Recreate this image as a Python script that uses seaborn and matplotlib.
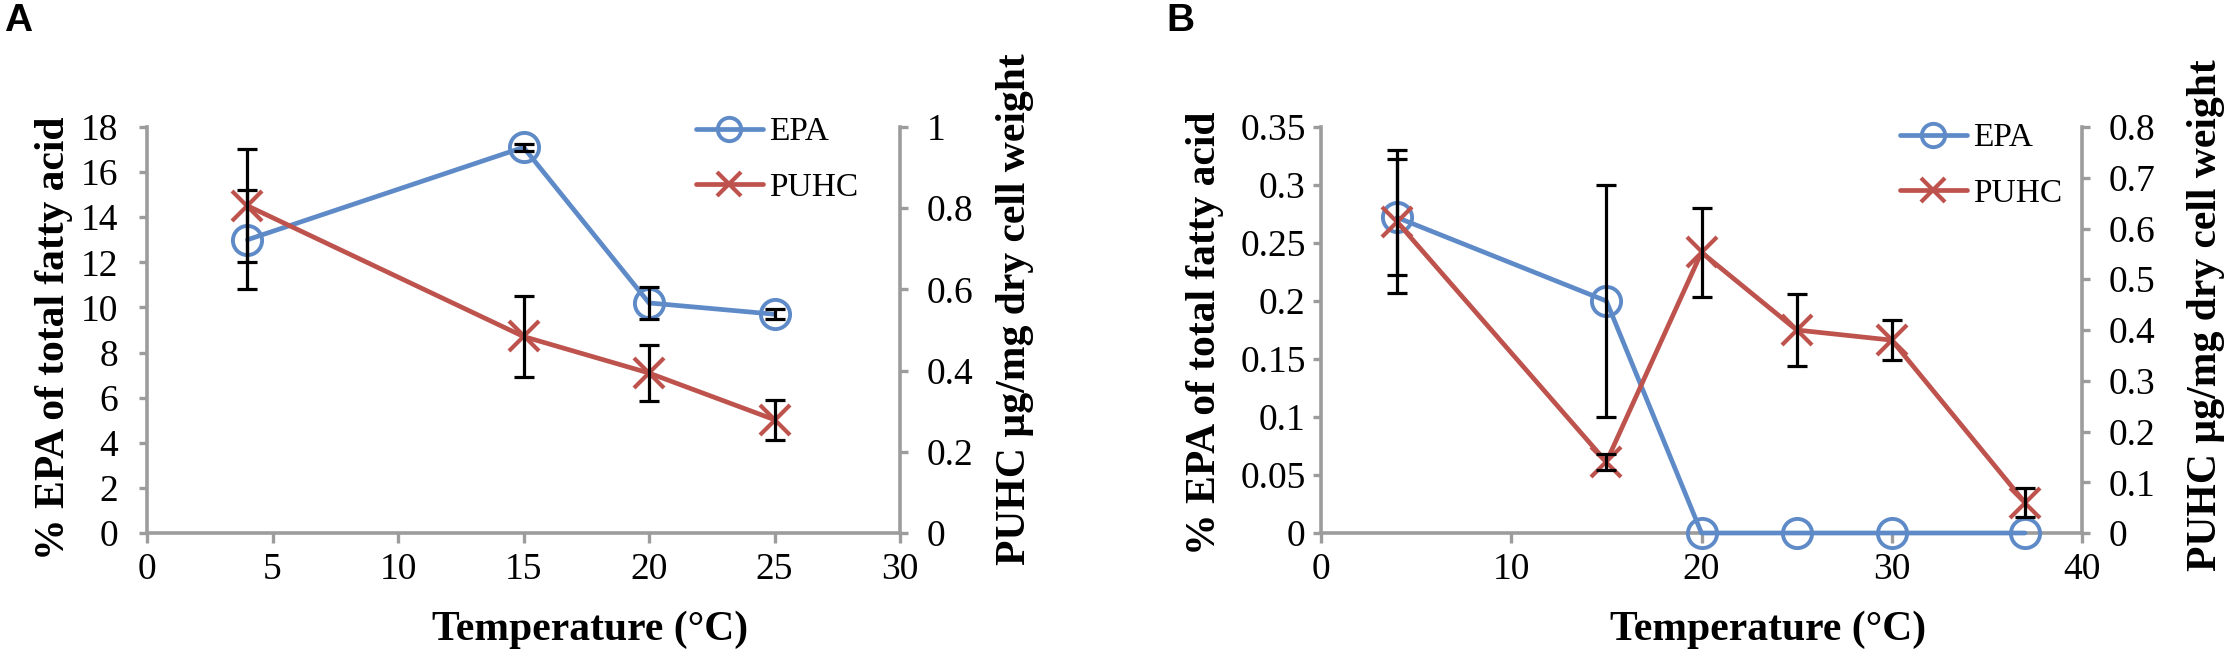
import matplotlib
matplotlib.use("Agg")
import matplotlib.pyplot as plt
import seaborn as sns
from matplotlib.ticker import MultipleLocator, FuncFormatter

# ---------------- data ----------------
temps_a = [4, 15, 20, 25]
epa_a = [13.0, 17.1, 10.2, 9.7]
epa_a_err = [2.2, 0.15, 0.7, 0.23]
puhc_a = [0.806, 0.484, 0.394, 0.279]
puhc_a_err = [0.139, 0.1, 0.069, 0.049]

temps_b = [4, 15, 20, 25, 30, 37]
epa_b = [0.272, 0.2, 0.0, 0.0, 0.0, 0.0]
epa_b_err = [0.05, 0.1, 0.0, 0.0, 0.0, 0.0]
puhc_b = [0.613, 0.14, 0.553, 0.40, 0.38, 0.06]
puhc_b_err = [0.141, 0.015, 0.088, 0.07, 0.04, 0.029]

series_names = ["EPA", "PUHC"]
panel_names = ["A", "B"]
x_label = "Temperature (°C)"
left_label = "% EPA of total fatty acid"
right_label = "PUHC µg/mg dry cell weight"

# ---------------- style ----------------
sns.set_theme(style="white")
SERIF = ["Liberation Serif", "DejaVu Serif"]
plt.rcParams["font.family"] = SERIF
plt.rcParams["font.serif"] = SERIF
plt.rcParams["text.color"] = "black"
plt.rcParams["axes.labelcolor"] = "black"
plt.rcParams["xtick.color"] = "black"
plt.rcParams["ytick.color"] = "black"

BLUE = "#5E8BC8"
RED = "#BE534E"
GREY = "#9C9C9C"

W, H = 2226, 652
fig = plt.figure(figsize=(W / 100, H / 100), dpi=100)
fig.patch.set_facecolor("white")

TOP, BOT = 127, 533


def fmt(v, p):
    return f"{v:g}"


def draw_panel(left_px, right_px, temps, epa, epa_err, puhc, puhc_err,
               xmax, xstep, lmax, lstep, rmax, rstep, lpad, rpad,
               lcoords, rcoords, legend_xy):
    ax = fig.add_axes([left_px / W, 1 - BOT / H, (right_px - left_px) / W, (BOT - TOP) / H])
    ax2 = ax.twinx()
    ax.set_facecolor("none")

    sns.lineplot(x=temps, y=epa, ax=ax, color=BLUE, linewidth=3.4, marker="o",
                 markersize=21, markeredgecolor=BLUE, markeredgewidth=2.8,
                 clip_on=False, label=series_names[0], zorder=3)
    ax.lines[-1].set_markerfacecolor("none")
    sns.lineplot(x=temps, y=puhc, ax=ax2, color=RED, linewidth=3.4, marker="x",
                 markersize=21, markeredgecolor=RED, markeredgewidth=3.0,
                 clip_on=False, label=series_names[1], zorder=3)

    ex = [t for t, e in zip(temps, epa_err) if e > 0]
    ey = [v for v, e in zip(epa, epa_err) if e > 0]
    ee = [e for e in epa_err if e > 0]
    ax.errorbar(ex, ey, yerr=ee, fmt="none", ecolor="black", elinewidth=2.3,
                capsize=7.5, capthick=2.3, zorder=5, clip_on=False)
    px = [t for t, e in zip(temps, puhc_err) if e > 0]
    py = [v for v, e in zip(puhc, puhc_err) if e > 0]
    pe = [e for e in puhc_err if e > 0]
    ax2.errorbar(px, py, yerr=pe, fmt="none", ecolor="black", elinewidth=2.3,
                 capsize=7.5, capthick=2.3, zorder=5, clip_on=False)

    ax.set_xlim(0, xmax)
    ax.set_ylim(0, lmax)
    ax2.set_ylim(0, rmax)
    ax.xaxis.set_major_locator(MultipleLocator(xstep))
    ax.yaxis.set_major_locator(MultipleLocator(lstep))
    ax2.yaxis.set_major_locator(MultipleLocator(rstep))
    for a in (ax, ax2):
        a.xaxis.set_major_formatter(FuncFormatter(fmt))
        a.yaxis.set_major_formatter(FuncFormatter(fmt))
        a.grid(False)

    for s in ("top", "right"):
        ax.spines[s].set_visible(False)
    for s in ("top", "left", "bottom"):
        ax2.spines[s].set_visible(False)
    for s in ("left", "bottom"):
        ax.spines[s].set_color(GREY)
        ax.spines[s].set_linewidth(2.6)
    ax2.spines["right"].set_color(GREY)
    ax2.spines["right"].set_linewidth(2.6)

    ax.tick_params(axis="x", bottom=True, direction="out", length=7, width=2.4,
                   color=GREY, labelsize=27, pad=7, labelcolor="black",
                   labelfontfamily="Liberation Serif")
    ax.tick_params(axis="y", left=True, direction="out", length=6, width=2.4,
                   color=GREY, labelsize=27, pad=lpad, labelcolor="black",
                   labelfontfamily="Liberation Serif")
    ax2.tick_params(axis="y", right=True, direction="out", length=6, width=2.4,
                    color=GREY, labelsize=27, pad=rpad, labelcolor="black",
                    labelfontfamily="Liberation Serif")

    ax.set_xlabel(x_label, fontsize=30, fontweight="bold", va="center",
                  fontfamily="Liberation Serif", color="black")
    ax.xaxis.set_label_coords(0.588, -0.239)
    ax.set_ylabel(left_label, fontsize=30, fontweight="bold", va="center",
                  fontfamily="Liberation Serif", color="black")
    ax.yaxis.set_label_coords(*lcoords)
    ax2.set_ylabel(right_label, fontsize=30, fontweight="bold", va="center",
                   rotation=90, fontfamily="Liberation Serif", color="black")
    ax2.yaxis.set_label_coords(*rcoords)

    h1, l1 = ax.get_legend_handles_labels()
    h2, l2 = ax2.get_legend_handles_labels()
    if ax.get_legend() is not None:
        ax.get_legend().remove()
    if ax2.get_legend() is not None:
        ax2.get_legend().remove()
    ax2.legend(h1 + h2, l1 + l2, loc="upper left", bbox_to_anchor=legend_xy,
               frameon=False, handlelength=2.0, handletextpad=0.2,
               labelspacing=0.75, borderpad=0, borderaxespad=0, markerscale=0.8,
               labelcolor="black",
               prop={"family": "Liberation Serif", "size": 24})
    return ax, ax2


draw_panel(147, 900, temps_a, epa_a, epa_a_err, puhc_a, puhc_a_err,
           30, 5, 18, 2, 1.0, 0.2, 15, 13,
           (-0.124, 0.479), (1.153, 0.552), (0.729, 1.025))
draw_panel(1321, 2082, temps_b, epa_b, epa_b_err, puhc_b, puhc_b_err,
           40, 10, 0.35, 0.05, 0.8, 0.1, 5, 13,
           (-0.153, 0.493), (1.163, 0.537), (0.761, 1.01))

fig.text(4 / W, 1 - 3 / H, panel_names[0], fontfamily="Liberation Sans",
         fontweight="bold", fontsize=28, ha="left", va="top", color="black")
fig.text(1166 / W, 1 - 3 / H, panel_names[1], fontfamily="Liberation Sans",
         fontweight="bold", fontsize=28, ha="left", va="top", color="black")

fig.savefig("out.png", dpi=100, facecolor="white")
